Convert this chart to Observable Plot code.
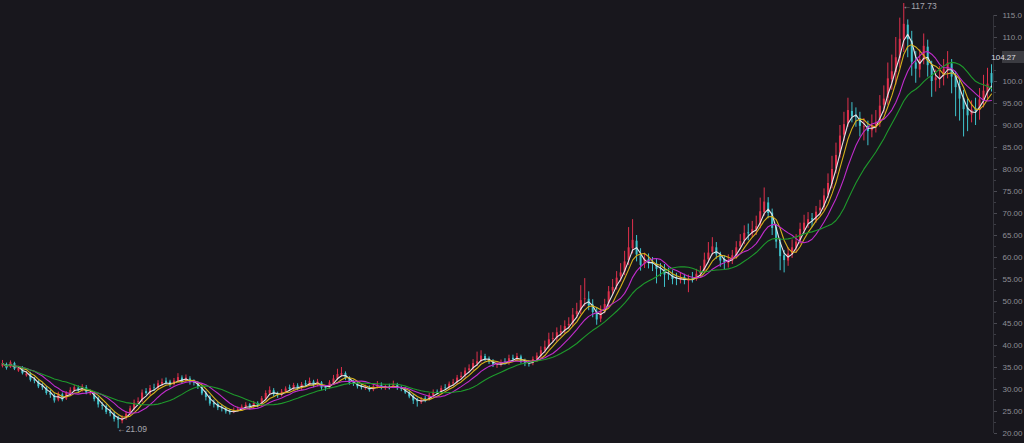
<!DOCTYPE html>
<html>
<head>
<meta charset="utf-8">
<script src="https://cdn.jsdelivr.net/npm/d3@7"></script>
<script src="https://cdn.jsdelivr.net/npm/@observablehq/plot@0.6"></script>
<style>
  html, body { margin: 0; padding: 0; background: #18171d; }
  #chart { width: 1024px; height: 443px; overflow: hidden; }
</style>
</head>
<body>
<div id="chart"></div>
<script>
// ---- Data ----
const closes = [
  35.9, 34.8, 36.1, 34.6, 34.8, 33.6, 33.5, 32.1, 31.9, 30.6,
  30.4, 29.1, 28.7, 27.4, 28.9, 27.6, 29.1, 29.8, 30.4, 29.6,
  30.6, 29.2, 29.3, 27.7, 26.5, 26.2, 24.8, 24.5, 23.2, 23.0,
  23.5, 24.4, 25.6, 26.9, 27.2, 29.2, 29.1, 30.2, 30.3, 31.3,
  31.6, 31.5, 31.0, 31.9, 32.7, 31.8, 32.6, 31.6, 31.4, 30.5,
  29.0, 28.2, 26.7, 26.5, 25.8, 25.6, 24.9, 24.7, 25.2, 25.5,
  26.0, 26.4, 25.8, 26.8, 26.2, 27.9, 29.1, 29.8, 28.8, 28.6,
  29.4, 30.1, 30.0, 30.9, 30.1, 31.1, 31.0, 31.8, 30.9, 31.7,
  30.3, 30.2, 31.5, 32.4, 33.4, 33.6, 32.5, 31.4, 31.3, 30.6,
  30.4, 30.5, 29.8, 30.6, 31.0, 30.3, 30.5, 30.4, 31.1, 30.2,
  30.0, 29.2, 28.3, 27.4, 27.2, 27.6, 27.7, 28.6, 29.2, 29.3,
  30.2, 30.3, 31.2, 31.5, 32.6, 33.0, 34.2, 34.7, 35.9, 36.3,
  37.6, 36.8, 36.2, 35.6, 35.7, 36.0, 36.1, 37.0, 36.8, 37.5,
  36.3, 35.9, 35.8, 36.8, 37.6, 38.8, 39.6, 41.3, 41.6, 42.9,
  43.2, 44.3, 44.8, 46.9, 47.7, 50.2, 50.6, 49.0, 47.5, 45.8,
  47.8, 49.3, 52.2, 53.2, 55.3, 56.5, 59.0, 62.2, 63.9, 60.6,
  58.2, 59.6, 58.7, 58.4, 57.3, 57.2, 56.0, 56.1, 55.0, 55.0,
  55.4, 54.7, 55.0, 55.1, 56.2, 56.8, 59.4, 61.0, 62.4, 60.6,
  59.2, 58.8, 59.3, 60.4, 62.2, 63.6, 65.5, 65.4, 66.3, 67.0,
  70.4, 72.6, 70.0, 66.6, 63.5, 60.2, 59.3, 60.8, 62.2, 63.5,
  66.4, 67.8, 68.6, 68.5, 70.3, 71.2, 74.0, 76.8, 80.0, 83.2,
  87.6, 90.2, 93.4, 92.0, 91.8, 89.8, 89.7, 88.6, 89.9, 90.4,
  94.4, 96.0, 100.6, 102.2, 105.4, 109.6, 113.0, 109.5, 104.4, 102.8,
  105.0, 108.0, 103.6, 100.0, 100.8, 101.0, 102.8, 104.2, 101.0, 98.6,
  96.0, 93.6, 92.2, 93.5, 93.2, 95.8, 97.8, 99.4, 99.6
];
const opens = [
  35.2, 35.7, 35.0, 35.9, 34.2, 34.9, 33.1, 33.6, 32.2, 31.8,
  30.8, 30.3, 29.2, 28.6, 27.6, 28.8, 27.8, 29.0, 29.7, 30.3,
  29.7, 30.4, 29.0, 29.1, 27.9, 26.4, 26.1, 24.9, 24.4, 23.4,
  22.8, 23.4, 24.3, 25.5, 27.0, 27.4, 29.5, 29.0, 30.4, 30.2,
  31.2, 31.9, 31.7, 31.1, 31.8, 32.6, 31.9, 32.4, 31.7, 31.3,
  30.4, 29.1, 28.3, 26.9, 26.6, 25.9, 25.6, 25.1, 24.8, 25.1,
  25.4, 25.9, 26.5, 25.9, 26.8, 26.3, 27.8, 29.0, 29.7, 28.9,
  28.7, 29.3, 30.4, 30.1, 30.8, 30.2, 31.3, 31.0, 31.7, 31.0,
  31.5, 30.5, 30.3, 31.4, 32.3, 33.2, 33.6, 32.6, 31.6, 31.2,
  30.7, 30.2, 30.4, 29.9, 30.5, 30.9, 30.2, 30.6, 30.5, 31.0,
  30.3, 30.1, 29.3, 28.4, 27.6, 27.0, 27.9, 27.8, 28.5, 29.4,
  29.4, 30.4, 30.4, 31.3, 31.6, 32.7, 33.1, 34.3, 34.8, 35.8,
  36.4, 37.5, 36.9, 36.3, 35.5, 35.6, 36.2, 36.0, 37.1, 36.7,
  37.4, 36.3, 35.9, 35.9, 36.8, 37.5, 38.9, 39.7, 41.4, 41.5,
  42.8, 43.4, 44.5, 44.9, 47.0, 47.9, 50.4, 50.5, 49.2, 47.6,
  46.0, 47.9, 49.5, 52.4, 53.4, 55.6, 56.7, 59.3, 62.0, 63.7,
  60.4, 58.4, 59.5, 58.8, 58.5, 57.4, 57.3, 56.2, 56.0, 55.2,
  54.9, 55.5, 54.6, 55.3, 55.0, 56.3, 57.0, 59.5, 61.2, 62.2,
  60.6, 59.5, 58.6, 59.2, 60.4, 62.4, 63.8, 65.6, 65.4, 66.2,
  67.4, 70.2, 72.4, 70.1, 66.8, 63.4, 60.4, 59.2, 60.6, 62.0,
  63.8, 66.2, 67.6, 68.8, 68.4, 70.6, 71.4, 74.2, 76.6, 80.2,
  83.4, 87.8, 90.4, 93.2, 92.1, 91.6, 89.5, 89.8, 88.8, 89.7,
  90.6, 94.6, 96.2, 100.4, 102.0, 105.2, 109.4, 112.8, 109.2, 104.2,
  102.6, 104.8, 107.8, 103.8, 100.2, 100.6, 101.2, 102.5, 104.0, 101.2,
  98.8, 96.2, 94.0, 92.4, 93.8, 93.4, 95.6, 97.4, 101.8
];
const highs = [
  36.6, 36.0, 36.5, 36.2, 35.3, 35.2, 34.1, 33.9, 32.7, 32.0,
  31.3, 30.7, 29.8, 29.0, 29.4, 29.2, 29.5, 30.4, 30.9, 30.8,
  31.1, 30.9, 29.9, 29.5, 28.3, 27.0, 26.5, 25.5, 24.9, 23.9,
  24.0, 25.0, 26.2, 27.6, 28.1, 29.9, 30.2, 30.9, 31.2, 32.0,
  32.4, 32.6, 32.1, 32.5, 33.6, 33.1, 33.3, 32.9, 32.2, 31.8,
  30.8, 29.6, 28.6, 27.6, 27.0, 26.4, 26.0, 25.5, 25.8, 26.0,
  26.5, 27.0, 26.8, 27.3, 27.2, 28.4, 29.7, 30.6, 30.2, 29.4,
  30.0, 30.6, 31.0, 31.4, 31.3, 31.6, 32.0, 32.6, 32.1, 32.3,
  31.8, 30.9, 32.0, 33.2, 34.6, 35.0, 34.0, 32.9, 32.1, 31.8,
  31.3, 31.0, 30.8, 31.1, 31.8, 31.5, 31.0, 31.2, 31.9, 31.4,
  30.8, 30.5, 29.7, 28.8, 28.0, 28.2, 28.4, 29.1, 29.9, 29.9,
  30.8, 31.1, 31.7, 32.3, 33.2, 33.9, 34.9, 35.6, 36.8, 38.5,
  38.8, 38.0, 37.4, 36.8, 36.3, 36.7, 37.0, 37.8, 37.8, 38.2,
  37.8, 36.9, 36.6, 37.4, 38.3, 39.7, 41.0, 42.8, 42.9, 44.0,
  44.5, 45.6, 46.3, 48.4, 49.6, 53.6, 55.2, 52.2, 50.4, 48.6,
  49.0, 50.5, 53.4, 55.0, 56.8, 58.6, 61.4, 66.8, 68.6, 65.0,
  62.0, 61.0, 60.8, 60.0, 59.6, 58.6, 58.4, 57.6, 57.0, 56.4,
  56.5, 56.2, 56.0, 56.6, 57.3, 58.0, 61.0, 63.4, 64.5, 63.4,
  61.2, 60.4, 60.6, 61.6, 63.6, 65.2, 67.2, 67.6, 68.2, 69.4,
  73.5, 75.8, 73.6, 71.0, 67.5, 64.2, 61.6, 62.2, 64.0, 65.2,
  67.8, 69.6, 70.2, 70.0, 71.6, 73.0, 75.6, 79.0, 83.0, 86.0,
  90.0, 93.0, 96.2, 95.2, 94.0, 93.0, 91.6, 91.0, 92.4, 93.4,
  96.8, 99.0, 104.2, 106.0, 110.0, 114.4, 117.73, 114.0, 111.4, 106.8,
  107.2, 110.8, 109.4, 104.6, 102.6, 103.4, 105.0, 106.8, 105.0, 102.2,
  100.4, 98.0, 96.0, 95.6, 96.2, 98.4, 101.4, 103.0, 103.8
];
const lows = [
  34.9, 34.4, 34.8, 34.3, 33.9, 33.3, 32.8, 31.7, 31.3, 30.2,
  29.8, 28.7, 28.0, 26.9, 27.2, 27.2, 27.5, 28.7, 29.4, 29.1,
  29.4, 28.8, 28.6, 27.2, 25.8, 25.3, 24.3, 23.8, 22.6, 21.09,
  22.2, 23.0, 24.0, 25.1, 26.5, 27.0, 28.7, 28.6, 29.6, 29.8,
  30.7, 31.0, 30.5, 30.8, 31.5, 31.3, 31.5, 31.0, 30.8, 30.0,
  28.6, 27.4, 26.2, 25.8, 25.2, 24.9, 24.4, 24.2, 24.5, 24.9,
  25.0, 25.6, 25.4, 25.6, 25.8, 26.0, 27.5, 28.6, 28.3, 28.0,
  28.3, 29.0, 29.6, 29.8, 29.7, 29.8, 30.5, 30.7, 30.4, 30.6,
  29.8, 29.6, 30.0, 31.0, 32.0, 32.8, 32.0, 31.0, 30.7, 30.1,
  29.9, 29.8, 29.4, 29.5, 30.1, 29.9, 29.8, 29.9, 30.2, 29.8,
  29.5, 28.9, 27.9, 26.6, 26.0, 26.6, 27.0, 27.4, 28.2, 28.8,
  29.0, 29.8, 30.0, 30.8, 31.1, 32.2, 32.6, 33.8, 34.3, 35.2,
  36.0, 36.3, 35.7, 35.0, 34.8, 35.1, 35.5, 35.5, 36.2, 36.3,
  35.8, 35.2, 35.1, 35.4, 36.3, 37.0, 38.2, 39.2, 40.6, 40.8,
  42.0, 42.7, 43.6, 44.2, 46.1, 47.0, 48.8, 47.9, 46.3, 44.6,
  45.2, 47.2, 48.8, 51.6, 52.6, 54.4, 55.9, 58.2, 60.8, 59.0,
  56.9, 57.5, 57.4, 56.8, 54.0, 55.6, 53.2, 54.8, 53.8, 53.6,
  54.0, 53.8, 52.0, 54.2, 54.6, 55.6, 56.6, 58.8, 60.4, 59.6,
  57.8, 57.2, 57.6, 58.4, 59.6, 61.8, 62.9, 63.8, 64.5, 65.0,
  66.5, 69.4, 68.8, 65.0, 62.0, 57.0, 56.5, 58.0, 59.8, 61.0,
  63.0, 65.4, 66.6, 66.8, 67.8, 69.4, 70.6, 73.4, 75.6, 79.0,
  82.6, 86.4, 89.6, 90.6, 89.6, 87.4, 86.5, 85.4, 87.2, 88.3,
  89.6, 92.8, 94.6, 98.0, 99.2, 103.0, 106.6, 105.4, 101.2, 99.6,
  100.8, 103.8, 101.0, 96.4, 97.6, 98.4, 99.0, 100.6, 97.2, 92.0,
  91.0, 87.4, 88.6, 90.6, 90.0, 91.2, 94.0, 96.0, 97.6
];
const maWindows = [3, 5, 9, 17];
const maColors = ["#e4e4e8", "#d6b21c", "#c02ccc", "#1e9a2c"];
// 105.0 is hidden behind the last-price tag in the reference
const yTickLabels = [20, 25, 30, 35, 40, 45, 50, 55, 60, 65, 70, 75, 80, 85, 90, 95, 100, 110, 115];
const yTickMarks = [20, 25, 30, 35, 40, 45, 50, 55, 60, 65, 70, 75, 80, 85, 90, 95, 100, 105, 110, 115];
const yMinorTicks = [22.5, 27.5, 32.5, 37.5, 42.5, 47.5, 52.5, 57.5, 62.5, 67.5, 72.5, 77.5, 82.5, 87.5, 92.5, 97.5, 102.5, 107.5, 112.5];
const lastPrice = 104.27;

// ---- Build table ----
const N = closes.length;
const data = closes.map((c, i) => ({i, open: opens[i], close: c, high: highs[i], low: lows[i]}));
const upColor = "#e0304c", downColor = "#3ec3cc";
const candleColor = d => d.close >= d.open ? upColor : downColor;
const hiIdx = d3.maxIndex(highs), loIdx = d3.minIndex(lows);
const highMark = [{i: hiIdx, v: highs[hiIdx], label: "\u2190" + highs[hiIdx].toFixed(2)}];
const lowMark = [{i: loIdx, v: lows[loIdx], label: "\u2190" + lows[loIdx].toFixed(2)}];
const fmt = d => d >= 100 ? d.toFixed(1) : d.toFixed(2);
const FONT = "'Liberation Sans', Arial, sans-serif";

function priceTag(index, scales, values, dims) {
  const g = d3.create("svg:g");
  const y = Math.round(scales.y(lastPrice)) - 5;
  const x0 = dims.width - dims.marginRight + 9;
  g.append("rect").attr("x", x0).attr("y", y - 6).attr("width", dims.width - x0).attr("height", 12).attr("fill", "#3b3b41");
  g.append("text").attr("x", x0 + 1.5).attr("y", y).attr("dy", "0.35em")
    .attr("fill", "#dcdce0").attr("font-size", 8).attr("font-family", FONT).text(lastPrice.toFixed(2));
  return g.node();
}

const chart = Plot.plot({
  width: 1024,
  height: 443,
  marginLeft: 0,
  marginRight: 31,
  marginTop: 15,
  marginBottom: 10,
  style: {background: "#18171d", fontFamily: FONT},
  x: {type: "linear", domain: [-0.5, N - 0.5], axis: null},
  y: {domain: [20, 115], axis: null},
  color: {type: "identity"},
  marks: [
    Plot.ruleX([N - 0.5], {stroke: "#34343b", strokeWidth: 1}),
    Plot.axisY(yTickMarks, {anchor: "right", tickSize: 3, tickFormat: () => "", stroke: "#4a4a52"}),
    Plot.axisY(yTickLabels, {anchor: "right", tickSize: 0, tickPadding: 9, tickFormat: fmt, fontSize: 8, color: "#8e8e96"}),
    Plot.axisY(yMinorTicks, {anchor: "right", tickSize: 2, tickFormat: () => "", stroke: "#3c3c44"}),
    Plot.ruleX(data, {x: "i", y1: "low", y2: "high", stroke: candleColor, strokeWidth: 1}),
    Plot.ruleX(data, {x: "i", y1: "open", y2: "close", stroke: candleColor, strokeWidth: 2}),
    ...maWindows.map((k, j) =>
      Plot.lineY(data, Plot.windowY({k, anchor: "end", reduce: "mean"}, {x: "i", y: "close", stroke: maColors[j], strokeWidth: 1.1}))
    ),
    Plot.text(highMark, {x: "i", y: "v", text: "label", dy: 3, dx: -1, textAnchor: "start", fill: "#a6a6ae", fontSize: 8.5}),
    Plot.text(lowMark, {x: "i", y: "v", text: "label", dy: 1, dx: -1, textAnchor: "start", fill: "#a6a6ae", fontSize: 8.5}),
    priceTag
  ]
});
document.getElementById("chart").appendChild(chart);
</script>
</body>
</html>
